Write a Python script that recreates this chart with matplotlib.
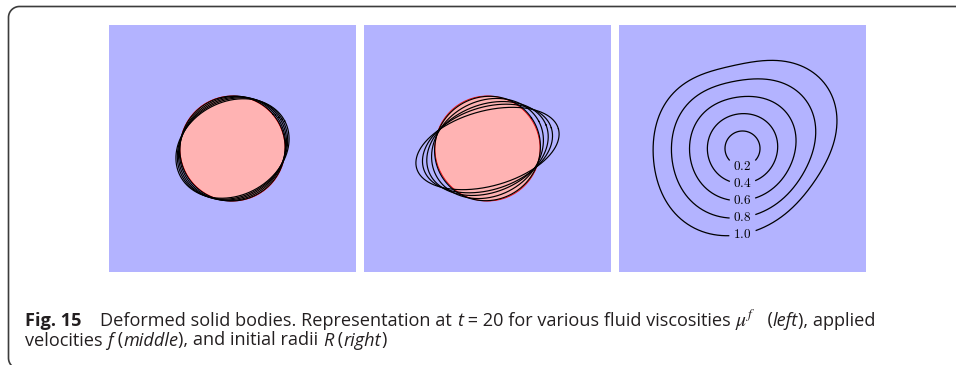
import numpy as np
import matplotlib.pyplot as plt
from matplotlib.patches import Circle

# Figure canvas in pixels
W, H = 956, 365
panel_bg = '#b3b3ff'
body_fill = '#ffb3b3'

# Undeformed body (left and middle panels)
r0 = 0.6
# Left: fluid viscosities -> deformed ellipse stretch and tilt (deg)
visc_stretch = [1.01, 1.038, 1.067, 1.095, 1.124]
visc_tilt = [40, 38, 34, 31, 28]
# Middle: applied velocities -> deformed ellipse stretch and tilt (deg)
vel_stretch = [1.02, 1.105, 1.20, 1.276, 1.40]
vel_tilt = [35, 28, 22, 18, 15.5]

# Right: initial radii and how strongly each one deforms
radii = [0.2, 0.4, 0.6, 0.8, 1.0]
radius_labels = ['0.2', '0.4', '0.6', '0.8', '1.0']
radius_deform = [0.0, 0.15, 0.4, 0.7, 1.0]
# harmonic coefficients of the deformed outline: (order, amplitude, phase deg)
outline_modes = [(0, 0.016, 0), (1, 0.04, 90), (2, 0.097, 38), (3, 0.045, 30), (4, 0.019, 45)]

lim = 1.41
t = np.linspace(0, 2 * np.pi, 721)

fig = plt.figure(figsize=(W / 100, H / 100), dpi=100)
bg = fig.add_axes([0, 0, 1, 1])
bg.set_xlim(0, W)
bg.set_ylim(H, 0)
bg.axis('off')

# frame: top edge, left edge, rounded corners (pixel coords)
rc = 11
xl, yt, yb = 8.5, 6.5, 369
a = np.linspace(np.pi, 1.5 * np.pi, 30)
top_corner_x = xl + rc + rc * np.cos(a)
top_corner_y = yt + rc + rc * np.sin(a)
a2 = np.linspace(0.5 * np.pi, np.pi, 30)[::-1]
bot_corner_x = xl + rc + rc * np.cos(a2)
bot_corner_y = yb - rc + rc * np.sin(a2)
fx = np.concatenate([[W + 5], top_corner_x[::-1], bot_corner_x])
fy = np.concatenate([[yt], top_corner_y[::-1], bot_corner_y])
bg.plot(fx, fy, color='#3c3c3c', lw=1.2, solid_capstyle='butt')


def make_panel(x0):
    ax = fig.add_axes([x0 / W, 1 - 272 / H, 247 / W, 247 / H])
    ax.set_facecolor(panel_bg)
    ax.set_xlim(-lim, lim)
    ax.set_ylim(-lim, lim)
    ax.set_xticks([])
    ax.set_yticks([])
    for s in ax.spines.values():
        s.set_visible(False)
    return ax


def ellipse(stretch, tilt):
    a, b = r0 * stretch, r0 / stretch
    phi = np.deg2rad(tilt)
    x, y = a * np.cos(t), b * np.sin(t)
    return x * np.cos(phi) - y * np.sin(phi), x * np.sin(phi) + y * np.cos(phi)


for x0, stretches, tilts in [(109, visc_stretch, visc_tilt), (364, vel_stretch, vel_tilt)]:
    ax = make_panel(x0)
    ax.add_patch(Circle((0, 0), r0, fc=body_fill, ec='red', lw=0.6, zorder=1))
    for s, a in zip(stretches, tilts):
        ex, ey = ellipse(s, a)
        ax.plot(ex, ey, color='black', lw=0.85, zorder=2)

# Right panel: outlines for different initial radii with inline labels
ax = make_panel(619)
box_w, box_h = 0.15, 0.08
for R, k, lab in zip(radii, radius_deform, radius_labels):
    rr = np.ones_like(t)
    for n, amp, ph in outline_modes:
        rr = rr + k * amp * np.cos(n * (t - np.deg2rad(ph)))
    x, y = R * rr * np.cos(t), R * rr * np.sin(t)
    i = np.argmin(np.abs(t - 1.5 * np.pi))
    lx, ly = x[i], y[i]
    hide = (np.abs(x - lx) < box_w) & (np.abs(y - ly) < box_h)
    x = np.where(hide, np.nan, x)
    y = np.where(hide, np.nan, y)
    xs = np.roll(x, -i)
    ys = np.roll(y, -i)
    ax.plot(xs, ys, color='black', lw=0.9)
    ax.text(lx, ly, '$' + lab + '$', ha='center', va='center', fontsize=9.5,
            math_fontfamily='cm')

# Caption, laid out piece by piece
fig.canvas.draw()
renderer = fig.canvas.get_renderer()
cap_font = 'Open Sans'
cap_size = 13.1


def advance(s, **kw):
    t1 = bg.text(0, 0, '|' + s + '|', **kw)
    t2 = bg.text(0, 0, '||', **kw)
    w = t1.get_window_extent(renderer).width - t2.get_window_extent(renderer).width
    t1.remove()
    t2.remove()
    return w


def put_line(pieces, x, y):
    for s, style in pieces:
        kw = dict(fontsize=cap_size, family=cap_font, color='#231f20')
        if style == 'bold':
            kw['fontweight'] = 'bold'
        elif style == 'italic':
            kw['fontstyle'] = 'italic'
        elif style == 'math':
            kw = dict(fontsize=cap_size + 1, color='#231f20', math_fontfamily='stix')
        bg.text(x, y, s, va='baseline', ha='left', **kw)
        if style == 'math':
            x += bg.texts[-1].get_window_extent(renderer).width + 2
        else:
            x += advance(s, **kw)


line1 = [('Fig. 15', 'bold'), ('    Deformed solid bodies. Representation at ', 'normal'),
         ('t', 'italic'), (' = 20 for various fluid viscosities ', 'normal'),
         (r'$\mu^f$', 'math'), ('  (', 'normal'), ('left', 'italic'), ('), applied', 'normal')]
line2 = [('velocities ', 'normal'), ('f', 'italic'), (' (', 'normal'), ('middle', 'italic'),
         ('), and initial radii ', 'normal'), ('R', 'italic'), (' (', 'normal'),
         ('right', 'italic'), (')', 'normal')]
put_line(line1, 25, 325.5)
put_line(line2, 25, 345.5)

fig.savefig('out.png', dpi=100)
